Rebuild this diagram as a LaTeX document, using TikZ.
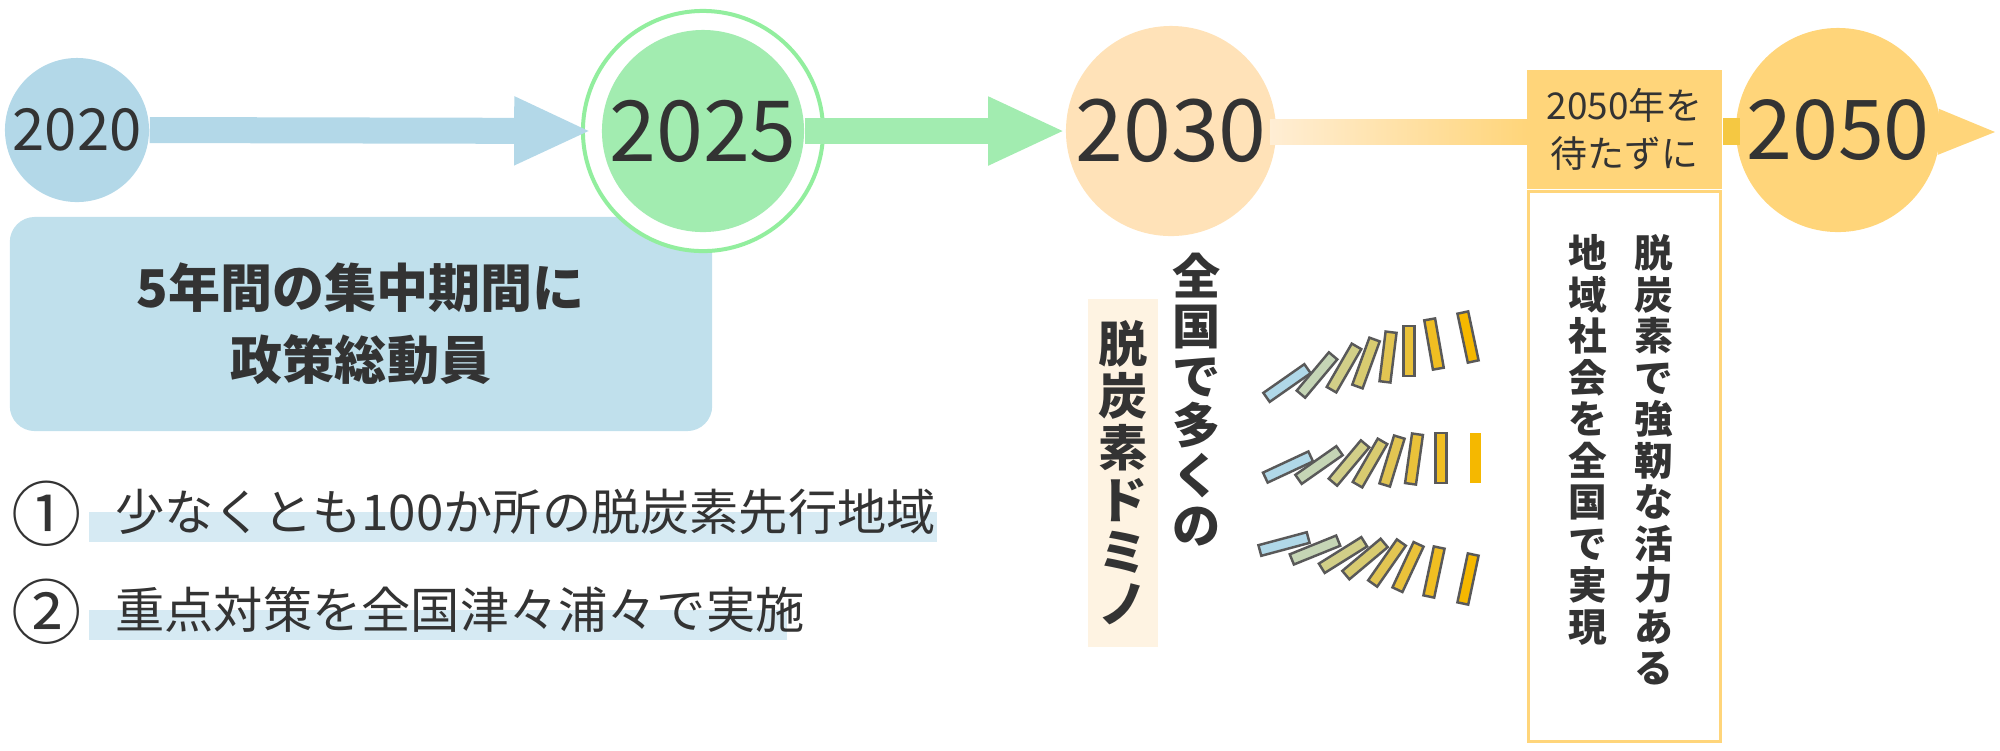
\documentclass[tikz,border=0pt]{standalone}
\usepackage{fontspec}
\setmainfont{Noto Sans CJK JP}
\usetikzlibrary{arrows.meta}

\definecolor{txt}{HTML}{333333}
\definecolor{yrA}{HTML}{B3D8E8}
\definecolor{yrB}{HTML}{A2ECB0}
\definecolor{yrC}{HTML}{FFE2B8}
\definecolor{yrD}{HTML}{FFD57A}
\definecolor{barD}{HTML}{F5C842}
\definecolor{boxA}{HTML}{C0E0EC}
\definecolor{lineA}{HTML}{D6EAF3}
\definecolor{cream}{HTML}{FEF3E2}
\definecolor{dA}{HTML}{B0D8E8}
\definecolor{dB}{HTML}{C5D5B5}
\definecolor{dC}{HTML}{D2CF88}
\definecolor{dD}{HTML}{D8CB70}
\definecolor{dE}{HTML}{E2C552}
\definecolor{dF}{HTML}{EAC23A}
\definecolor{dG}{HTML}{F0BE22}
\definecolor{dH}{HTML}{F5B800}

\tikzset{
  year/.style={circle, inner sep=0pt, text=txt},
  fatarrow/.style={line width=0.26cm, -{Triangle[length=0.77cm,width=0.63cm]}},
  domino/.style={rectangle, inner sep=0pt, minimum width=0.5cm, minimum height=0.11cm,
    draw=black!65, line width=0.7pt},
  vtext/.style={align=center, inner sep=0pt, text=txt},
}

\begin{document}
\begin{tikzpicture}[x=0.01cm, y=-0.01cm]
        \useasboundingbox (0,0) rectangle (2000,750);

        % Summary box under the first two years
        \node[fill=boxA, rounded corners=0.25cm, minimum width=7.02cm, minimum height=2.14cm,
          align=center, text=txt, font=\fontsize{14.8}{20.5}\selectfont\bfseries] (focus) at (361,324)
          {5年間の集中期間に\\政策総動員};

        % Year circles
        \node[year, fill=yrA, minimum size=1.44cm, font=\fontsize{16.5}{18}\selectfont] (c2020) at (77,130) {2020};
        \node[circle, fill=white, draw=yrB!90!green, line width=0.04cm, minimum size=2.4cm] (ring) at (703,131) {};
        \node[year, fill=yrB, minimum size=2.02cm, font=\fontsize{24}{26}\selectfont] (c2025) at (703,131) {2025};
        \node[year, fill=yrC, minimum size=2.1cm, font=\fontsize{24.5}{26}\selectfont] (c2030) at (1171,131) {2030};

        % Bar from 2030 towards 2050
        \shade[left color=yrC!60, right color=yrD] (1270,119) rectangle (1527,144);

        % Box with the 2050 note
        \node[fill=yrD, minimum width=1.95cm, minimum height=1.19cm, align=center, text=txt,
          font=\fontsize{10.5}{13.6}\selectfont] (head) at (1624.5,129.5) {2050年を\\待たずに};
        \node[draw=yrD, line width=0.03cm, minimum width=1.92cm, minimum height=5.5cm, anchor=north] (body) at (head.south) {};
        \node[vtext, anchor=north, font=\fontsize{11}{11.8}\selectfont\bfseries] (goalA) at (1654,234)
          {脱\\炭\\素\\で\\強\\靭\\な\\活\\力\\あ\\る};
        \node[vtext, anchor=north, font=\fontsize{11}{11.8}\selectfont\bfseries] (goalB) at (1588,234)
          {地\\域\\社\\会\\を\\全\\国\\で\\実\\現};

        % 2050 circle and its pointer
        \node[year, fill=yrD, minimum size=2.04cm, font=\fontsize{23.5}{26}\selectfont] (c2050) at (1838,130) {2050};
        \coordinate (tip) at (1995,132);
        \fill[yrD] (c2050.12) -- (tip) -- (c2050.-14) -- cycle;
        \fill[barD] (head.east |- 0,118) rectangle (1740,145);

        % Arrows between the years
        \draw[fatarrow, yrA, shorten >=0.1cm] (c2020.east) -- (c2025.west);
        \draw[fatarrow, yrB] (c2025.east) -- (c2030.west);

        % Domino texts
        \node[vtext, anchor=north, font=\fontsize{13.7}{14.2}\selectfont\bfseries] (nation) at (1197,252)
          {全\\国\\で\\多\\く\\の};
        \node[fill=cream, minimum width=0.7cm, minimum height=3.48cm, vtext,
          font=\fontsize{14}{14.8}\selectfont\bfseries] (domtxt) at (1123,473)
          {脱\\炭\\素\\ド\\ミ\\ノ};

        % Falling dominoes, three rows
        \foreach \x/\y/\a/\c [count=\i] in {
            1287/383/35/dA, 1317/375/50/dB, 1344/368/60/dC, 1366/363/70/dD,
            1388/357/83/dE, 1409/351/90/dF, 1434/344/100/dG, 1468/337/102/dH,
            1288/467/25/dA, 1319/465/35/dB, 1349/463/50/dC, 1370/463/60/dD,
            1392/461/73/dE, 1414/459/82/dF, 1441/458/90/dG,
            1284/544/15/dA, 1315/550/22/dB, 1343/555/32/dC, 1365/559/40/dD,
            1387/563/55/dE, 1408/567/65/dF, 1434/572/78/dG, 1468/579/78/dH}
          \node[domino, fill=\c, rotate=\a] (d\i) at (\x,\y) {};
        \node[domino, fill=dH, draw=none, rotate=90] (dlast) at (1475,458) {};

        % Two goals under the summary box
        \fill[lineA] (89,512) rectangle (937,542);
        \fill[lineA] (89,610) rectangle (787,640);
        \node[text=txt, font=\fontsize{20}{22}\selectfont] (n1) at (47,514) {①};
        \node[text=txt, font=\fontsize{14}{16}\selectfont, anchor=west] (t1) at (103,512) {少なくとも100か所の脱炭素先行地域};
        \node[text=txt, font=\fontsize{20}{22}\selectfont] (n2) at (47,612) {②};
        \node[text=txt, font=\fontsize{14}{16}\selectfont, anchor=west] (t2) at (103,610) {重点対策を全国津々浦々で実施};
    \end{tikzpicture}
\end{document}
